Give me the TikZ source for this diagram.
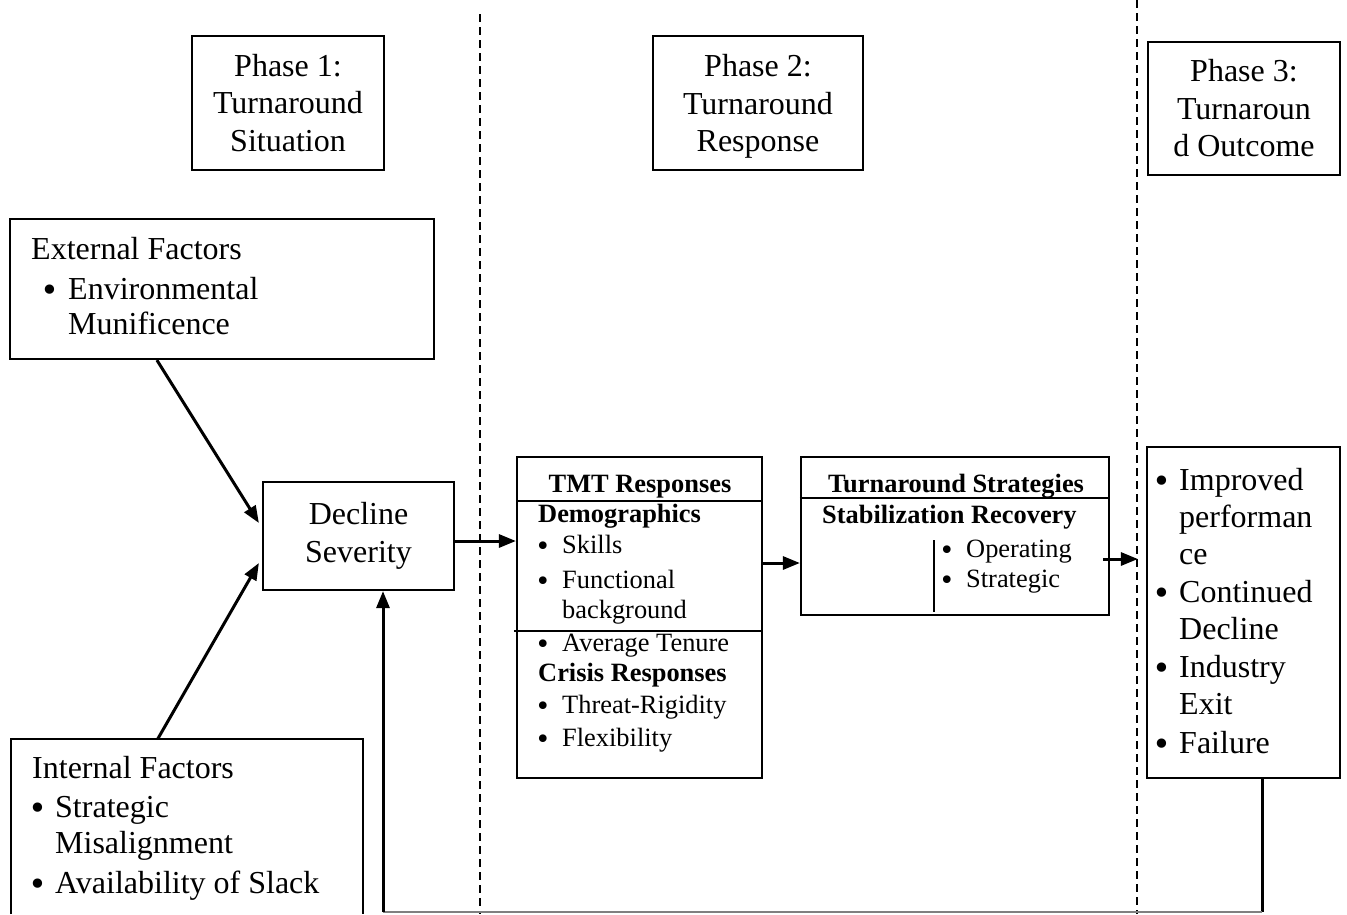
\documentclass[tikz,border=0pt]{standalone}
\usepackage{fontspec}
\setmainfont{Liberation Serif}
\newfontfamily\bulfont{DejaVu Sans}
\usetikzlibrary{arrows.meta,calc}
\newcommand{\bigf}{\fontsize{32}{37.5}\selectfont}
\newcommand{\smallf}{\fontsize{26.4}{32}\selectfont}
\begin{document}
\begin{tikzpicture}[x=1pt,y=-1pt,
  box/.style={draw, line width=2.2pt, inner sep=0pt, rectangle},
  t/.style={anchor=base west, inner sep=0pt, font=\bigf},
  ts/.style={anchor=base west, inner sep=0pt, font=\smallf},
  tb/.style={anchor=base west, inner sep=0pt, font=\smallf\bfseries},
  tbc/.style={anchor=base, inner sep=0pt, font=\smallf\bfseries},
  bul/.style={anchor=base, inner sep=0pt, font=\bulfont\fontsize{32}{32}\selectfont, yshift=-2pt},
  buls/.style={anchor=base, inner sep=0pt, font=\bulfont\fontsize{26.4}{26.4}\selectfont, yshift=-2pt},
  arr/.style={line width=3pt, -{Triangle[length=17pt,width=13pt]}},
  ln/.style={line width=3pt},
  divider/.style={line width=2pt, dash pattern=on 8pt off 5pt},
  rule/.style={line width=2.2pt}]
\fill[white] (0,0) rectangle (1347,914);
\useasboundingbox (0,0) rectangle (1347,914);

% phase dividers
\draw[divider] (480,14) -- (480,914);
\draw[divider] (1137,0) -- (1137,914);

% phase boxes
\node[box, minimum width=192pt, minimum height=134pt, align=center, font=\bigf] (p1) at (288,103) {Phase 1:\\Turnaround\\Situation};
\node[box, minimum width=210pt, minimum height=134pt, align=center, font=\bigf, text depth=0pt] (p2) at (758,103) {Phase 2:\\Turnaround\\Response};
\node[box, minimum width=192pt, minimum height=133pt, align=center, font=\bigf] (p3) at (1244,108.5) {Phase 3:\\Turnaroun\\d Outcome};

% external factors
\node[box, minimum width=424pt, minimum height=140pt] (ext) at (222,289) {};
\node[t] (extT) at (31,259) {External Factors};
\node[bul] (extB1) at (50,299) {•};
\node[t] (extL1) at (68,299) {Environmental};
\node[t] (extL2) at (68,334) {Munificence};

% decline severity
\node[box, minimum width=191pt, minimum height=108pt, align=center, font=\bigf] (dec) at (358.5,536) {Decline\\Severity};

% internal factors (box runs off the bottom edge)
\node[draw=none, minimum width=352pt, minimum height=175pt, inner sep=0pt] (int) at (187,826.5) {};
\draw[rule] (int.south west) -- (int.north west) -- (int.north east) -- (int.south east);
\node[t] (intT) at (32,778) {Internal Factors};
\node[bul] (intB1) at (38,817) {•};
\node[t] (intL1) at (55,817) {Strategic};
\node[t] (intL2) at (55,853) {Misalignment};
\node[bul] (intB2) at (38,893) {•};
\node[t] (intL3) at (55,893) {Availability of Slack};

% TMT responses
\node[box, minimum width=245pt, minimum height=321pt] (tmt) at (639.5,617.5) {};
\draw[rule] (tmt.west |- 0,501) -- (tmt.east |- 0,501);
\draw[rule] ($(tmt.west |- 0,631)+(-2,0)$) -- (tmt.east |- 0,631);
\node[tbc] (tmtH) at (640,492) {TMT Responses};
\node[tb] (tmtD) at (538,522) {Demographics};
\node[buls] (tb1) at (543,553) {•};
\node[ts] (tl1) at (562,553) {Skills};
\node[buls] (tb2) at (543,588) {•};
\node[ts] (tl2) at (562,588) {Functional};
\node[ts] (tl3) at (562,618) {background};
\node[buls] (tb3) at (543,651) {•};
\node[ts] (tl4) at (562,651) {Average Tenure};
\node[tb] (tmtC) at (538,681) {Crisis Responses};
\node[buls] (tb4) at (543,713) {•};
\node[ts] (tl5) at (562,713) {Threat-Rigidity};
\node[buls] (tb5) at (543,746) {•};
\node[ts] (tl6) at (562,746) {Flexibility};

% turnaround strategies
\node[box, minimum width=308pt, minimum height=158pt] (strat) at (955,536) {};
\draw[rule] (strat.west |- 0,498) -- (strat.east |- 0,498);
\node[tbc] (stH) at (956,492) {Turnaround Strategies};
\node[tb] (stS) at (822,523) {Stabilization Recovery};
\draw[rule] (934,540) -- (934,612);
\node[buls] (sb1) at (947,557) {•};
\node[ts] (sl1) at (966,557) {Operating};
\node[buls] (sb2) at (947,587) {•};
\node[ts] (sl2) at (966,587) {Strategic};

% outcomes
\node[box, minimum width=193pt, minimum height=331pt] (out) at (1243.5,612.5) {};
\node[bul] (ob1) at (1162,490) {•};
\node[t] (ol1) at (1179,490) {Improved};
\node[t] (ol2) at (1179,527) {performan};
\node[t] (ol3) at (1179,564) {ce};
\node[bul] (ob2) at (1162,602) {•};
\node[t] (ol4) at (1179,602) {Continued};
\node[t] (ol5) at (1179,639) {Decline};
\node[bul] (ob3) at (1162,677) {•};
\node[t] (ol6) at (1179,677) {Industry};
\node[t] (ol7) at (1179,714) {Exit};
\node[bul] (ob4) at (1162,753) {•};
\node[t] (ol8) at (1179,753) {Failure};

% connectors
\draw[arr] ($(ext.south west)+(148,0)$) -- ($(dec.west)+(-3,-13)$);
\draw[arr] ($(int.north west)+(147,0)$) -- ($(dec.west)+(-3,27)$);
\draw[arr] ($(dec.east)+(0,5)$) coordinate (d1) -- (d1 -| tmt.west);
\draw[arr] ($(tmt.east)+(0,-54.5)$) coordinate (t1) -- (t1 -| strat.west);
\draw[arr] ($(strat.east)+(-7,23)$) coordinate (s1) -- ($(s1 -| out.west)+(-8,0)$);

% feedback loop
\coordinate (f1) at ($(out.south)+(18.5,0)$);
\coordinate (f2) at (f1 |- 0,912);
\coordinate (f3) at ($(dec.south)+(24.5,0)$);
\coordinate (f4) at (f3 |- 0,912);
\draw[ln] (f1) -- (f2);
\draw[gray, line width=1.5pt] (f2) -- (f4);
\draw[arr] (f4) -- (f3);
\end{tikzpicture}
\end{document}
